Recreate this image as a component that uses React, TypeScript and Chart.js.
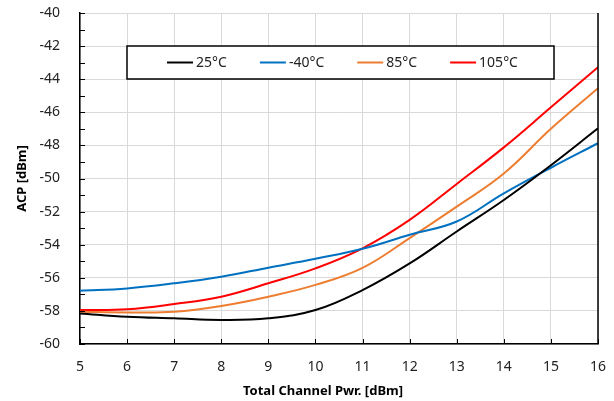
import React, { useEffect, useRef } from "react";
import { Chart, registerables } from "chart.js";

Chart.register(...registerables);

const xValues = [5, 6, 7, 8, 9, 10, 11, 12, 13, 14, 15, 16];
const seriesLabels = ["25°C", "-40°C", "85°C", "105°C"];
const seriesColors = ["#000000", "#0070C0", "#ED7D31", "#FF0000"];
const acp25 = [-58.15, -58.35, -58.45, -58.55, -58.45, -57.95, -56.74, -55.13, -53.2, -51.3, -49.2, -46.97];
const acpM40 = [-56.78, -56.64, -56.33, -55.93, -55.39, -54.85, -54.25, -53.4, -52.6, -50.9, -49.35, -47.87];
const acp85 = [-58.05, -58.09, -58.05, -57.7, -57.14, -56.43, -55.4, -53.6, -51.7, -49.7, -47.0, -44.55];
const acp105 = [-57.95, -57.9, -57.58, -57.14, -56.33, -55.43, -54.22, -52.5, -50.33, -48.12, -45.7, -43.28];
const xTitle = "Total Channel Pwr. [dBm]";
const yTitle = "ACP [dBm]";

const FONT = "'Noto Sans', sans-serif";

const decorPlugin = {
  id: "decor",
  afterDraw(chart: any) {
    const ctx = chart.ctx;
    const ca = chart.chartArea;
    const xs = chart.scales.x;
    const ys = chart.scales.y;
    ctx.save();
    // right border
    ctx.strokeStyle = "#000";
    ctx.lineWidth = 1.5;
    ctx.beginPath();
    ctx.moveTo(ca.right, ca.top);
    ctx.lineTo(ca.right, ca.bottom);
    ctx.stroke();
    // inward ticks
    ctx.lineWidth = 1;
    ctx.beginPath();
    for (let v = 5; v <= 16; v++) {
      const px = Math.round(xs.getPixelForValue(v)) + 0.5;
      ctx.moveTo(px, ca.bottom);
      ctx.lineTo(px, ca.bottom - 5);
    }
    for (let v = -60; v <= -40; v++) {
      const py = Math.round(ys.getPixelForValue(v)) + 0.5;
      ctx.moveTo(ca.left, py);
      ctx.lineTo(ca.left + 5, py);
    }
    ctx.stroke();
    // axis titles
    ctx.fillStyle = "#000";
    ctx.font = `bold 13px ${FONT}`;
    ctx.textAlign = "center";
    ctx.textBaseline = "middle";
    ctx.fillText(xTitle, 323, 391);
    ctx.save();
    ctx.translate(22.5, (ca.top + ca.bottom) / 2);
    ctx.rotate(-Math.PI / 2);
    ctx.fillText(yTitle, 0, 0);
    ctx.restore();
    // legend box
    const bx = ca.left + 47;
    const by = ca.top + 33;
    const bw = 427;
    const bh = 33;
    ctx.fillStyle = "#fff";
    ctx.fillRect(bx, by, bw, bh);
    ctx.strokeStyle = "#000";
    ctx.lineWidth = 1.5;
    ctx.strokeRect(bx, by, bw, bh);
    ctx.font = `14px ${FONT}`;
    ctx.textAlign = "left";
    const lineLen = 26;
    const gap = 3;
    const itemGap = 33;
    const widths = seriesLabels.map((t) => lineLen + gap + ctx.measureText(t).width);
    const total = widths.reduce((a, b) => a + b, 0) + itemGap * (widths.length - 1);
    let x = bx + bw / 2 - total / 2 + 2;
    const cy = by + bh / 2;
    seriesLabels.forEach((t, i) => {
      ctx.strokeStyle = seriesColors[i];
      ctx.lineWidth = 2;
      ctx.beginPath();
      ctx.moveTo(x, cy);
      ctx.lineTo(x + lineLen, cy);
      ctx.stroke();
      ctx.fillStyle = "#222";
      ctx.fillText(t, x + lineLen + gap, cy + 1);
      x += widths[i] + itemGap;
    });
    ctx.restore();
  },
};

export default function App() {
  const ref = useRef<HTMLCanvasElement | null>(null);
  useEffect(() => {
    document.body.style.margin = "0";
    const series = [acp25, acpM40, acp85, acp105];
    const chart = new Chart(ref.current as HTMLCanvasElement, {
      type: "line",
      data: {
        datasets: series.map((s, i) => ({
          label: seriesLabels[i],
          data: s.map((y, j) => ({ x: xValues[j], y })),
          borderColor: seriesColors[i],
          backgroundColor: seriesColors[i],
          borderWidth: 2,
          pointRadius: 0,
          tension: 0.4,
          fill: false,
        })),
      },
      options: {
        animation: false,
        responsive: false,
        layout: { padding: { top: 13, right: 16, left: 0, bottom: 0 } },
        plugins: { legend: { display: false }, tooltip: { enabled: false } },
        scales: {
          x: {
            type: "linear",
            min: 5,
            max: 16,
            afterFit: (s: any) => {
              s.height = 57;
              s.paddingLeft = 0;
              s.paddingRight = 0;
            },
            ticks: { stepSize: 1, padding: 15, color: "#222", font: { family: FONT, size: 14 } },
            grid: { color: "#d9d9d9", lineWidth: 1, drawTicks: false },
            border: { color: "#000", width: 1.5 },
          },
          y: {
            min: -60,
            max: -40,
            afterFit: (s: any) => {
              s.width = 80;
              s.paddingTop = 0;
              s.paddingBottom = 0;
            },
            ticks: { stepSize: 2, padding: 20, color: "#222", font: { family: FONT, size: 14 } },
            grid: { color: "#d9d9d9", lineWidth: 1, drawTicks: false },
            border: { color: "#000", width: 1.5 },
          },
        },
      },
      plugins: [decorPlugin],
    } as any);
    return () => chart.destroy();
  }, []);
  return <canvas ref={ref} width={614} height={401} style={{ display: "block" }} />;
}
